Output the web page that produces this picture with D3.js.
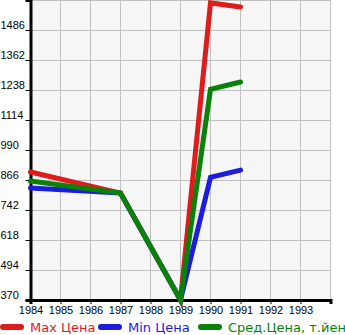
<!DOCTYPE html>
<html>
<head>
<meta charset="utf-8">
<script src="https://cdn.jsdelivr.net/npm/d3@7"></script>
<style>
  body { margin: 0; background: #fff; }
  svg { display: block; font-family: "DejaVu Sans", sans-serif; }
</style>
</head>
<body>
<svg id="chart" width="345" height="335"></svg>
<script>
// data
const years = [1984, 1987, 1989, 1990, 1991];
const maxPrice = [899, 812, 370, 1598, 1581];
const minPrice = [833, 812, 370, 877, 907];
const avgPrice = [862, 812, 370, 1241, 1271];

const xTicks = [1984, 1985, 1986, 1987, 1988, 1989, 1990, 1991, 1992, 1993];
const yTicks = [370, 494, 618, 742, 866, 990, 1114, 1238, 1362, 1486];

const seriesNames = ["Max Цена", "Min Цена", "Сред.Цена, т.йен"];
const seriesColors = ["#dd1c1c", "#1c1cdd", "#0a820a"];

const svg = d3.select("#chart");

const x = d3.scaleLinear().domain([1984, 1994]).range([30.5, 330.5]);
const y = d3.scaleLinear().domain([370, 1610]).range([300, 0]);

// plot background
svg.append("rect")
    .attr("x", x(1984)).attr("y", 0)
    .attr("width", x(1994) - x(1984)).attr("height", y(370))
    .style("fill", "#f6f6f6");

// grid
const grid = svg.append("g");
grid.selectAll(".vg")
    .data(xTicks.concat([1994]))
    .enter().append("line")
    .attr("x1", d => x(d)).attr("x2", d => x(d))
    .attr("y1", 0).attr("y2", y(370))
    .style("stroke", "#c0c0c0").style("stroke-width", 1);

grid.selectAll(".hg")
    .data(yTicks.concat([1610]))
    .enter().append("line")
    .attr("x1", x(1984)).attr("x2", x(1994))
    .attr("y1", d => Math.round(y(d)) + 0.5).attr("y2", d => Math.round(y(d)) + 0.5)
    .style("stroke", "#c0c0c0").style("stroke-width", 1);

// axes
const xAxis = svg.append("g")
    .attr("transform", "translate(0," + y(370) + ")")
    .call(d3.axisBottom(x).tickValues(xTicks.concat([1994])).tickFormat(d => d === 1994 ? "" : String(d)).tickSize(4).tickPadding(2));
xAxis.select(".domain").style("stroke", "#000").style("stroke-width", 3);
xAxis.selectAll(".tick line").style("stroke", "#000");
xAxis.selectAll("text").style("font-size", "11px").style("fill", "#000");

const yAxis = svg.append("g")
    .attr("transform", "translate(" + x(1984) + ",0)")
    .call(d3.axisLeft(y).tickValues(yTicks).tickFormat(d => String(d)).tickSize(5).tickPadding(1));
yAxis.select(".domain").style("stroke", "#000").style("stroke-width", 3);
yAxis.selectAll(".tick line").style("stroke", "#000");
yAxis.selectAll("text")
    .attr("text-anchor", "start").attr("x", -30).attr("dy", "-0.1em")
    .style("font-size", "11px").style("fill", "#000");

// lines
const line = d3.line()
    .x(d => x(d.year))
    .y(d => y(d.value));

[maxPrice, minPrice, avgPrice].forEach((vals, i) => {
    const pts = years.map((yr, j) => ({ year: yr, value: vals[j] }));
    svg.append("path")
        .datum(pts)
        .attr("d", line)
        .style("fill", "none")
        .style("stroke", seriesColors[i])
        .style("stroke-width", 5)
        .style("stroke-linecap", "round")
        .style("stroke-linejoin", "miter");
});

// legend
const legendX = [0, 98, 198];
const legend = svg.append("g");
seriesNames.forEach((name, i) => {
    legend.append("line")
        .attr("x1", legendX[i] + 3).attr("x2", legendX[i] + 21)
        .attr("y1", 327).attr("y2", 327)
        .style("stroke", seriesColors[i])
        .style("stroke-width", 6)
        .style("stroke-linecap", "round");
    legend.append("text")
        .attr("x", legendX[i] + 30).attr("y", 332)
        .text(name)
        .style("font-size", "13px")
        .style("fill", seriesColors[i]);
});
</script>
</body>
</html>
